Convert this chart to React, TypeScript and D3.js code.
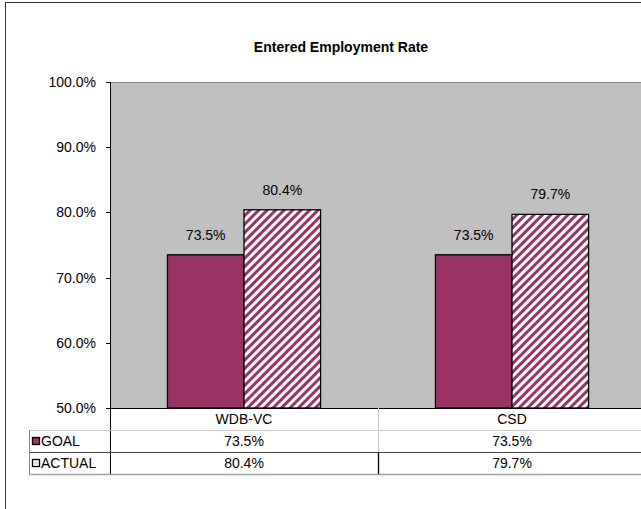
import React from 'react';
import * as d3 from 'd3';

const categories = ['WDB-VC', 'CSD'];
const seriesNames = ['GOAL', 'ACTUAL'];
const goalValues = [73.5, 73.5];
const actualValues = [80.4, 79.7];
const yTicks = [50, 60, 70, 80, 90, 100];
const title = 'Entered Employment Rate';

const W = 641;
const H = 509;
const MAROON = '#993366';
const FONT = '"Liberation Sans", Arial, sans-serif';

export default function App() {
  const plotL = 110, plotR = 646, plotT = 82, plotB = 408;
  const x = d3.scaleBand<string>().domain(categories).range([plotL, plotR]).paddingInner(0).paddingOuter(0);
  const y = d3.scaleLinear().domain([50, 100]).range([plotB, plotT]);
  const bw = x.bandwidth() / 3.5;
  const barX = (c: string, s: number) => (x(c) as number) + bw * 0.75 + s * bw;
  const series = [goalValues, actualValues];
  const fills = [MAROON, 'url(#hatch)'];
  const fmt = (v: number) => v.toFixed(1) + '%';

  const rowH = 22;
  const r0 = plotB, r1 = plotB + rowH, r2 = plotB + 2 * rowH, r3 = plotB + 3 * rowH;
  const tableL = 29;
  const fs = 14;

  return (
    <svg width={W} height={H} style={{ position: 'absolute', left: 0, top: 0 }} fontFamily={FONT}>
      <defs>
        <pattern id="hatch" patternUnits="userSpaceOnUse" width="6" height="6" patternTransform="rotate(45)">
          <rect x="0" y="0" width="6" height="6" fill="#ffffff" />
          <rect x="0" y="0" width="3" height="6" fill={MAROON} />
        </pattern>
      </defs>
      <rect x={0} y={0} width={W} height={H} fill="#ffffff" />
      <rect x={5.5} y={2.5} width={W + 20} height={H + 20} fill="none" stroke="#333" strokeWidth={1} />

      <text x={341} y={52} textAnchor="middle" fontSize={14} fontWeight="bold" fill="#000">{title}</text>

      {/* plot area */}
      <rect x={plotL} y={plotT} width={plotR - plotL} height={plotB - plotT} fill="#c0c0c0" />
      <line x1={plotL} x2={plotR} y1={plotT + 0.5} y2={plotT + 0.5} stroke="#808080" />

      {/* y axis */}
      {yTicks.map((t) => (
        <g key={t}>
          <line x1={plotL - 4} x2={plotL} y1={Math.round(y(t)) + 0.5} y2={Math.round(y(t)) + 0.5} stroke="#000" />
          <text x={96} y={y(t) + 5} textAnchor="end" fontSize={fs} fill="#000">{fmt(t)}</text>
        </g>
      ))}

      {/* bars */}
      {categories.map((c, i) => (
        <g key={c}>
          {series.map((vals, s) => (
            <g key={s}>
              <rect
                x={barX(c, s)}
                y={y(vals[i])}
                width={bw}
                height={plotB - y(vals[i])}
                fill={fills[s]}
                stroke="#000"
                strokeWidth={1.3}
              />
              <text x={barX(c, s) + bw / 2} y={y(vals[i]) - 15} textAnchor="middle" fontSize={fs} fill="#000">
                {fmt(vals[i])}
              </text>
            </g>
          ))}
        </g>
      ))}

      {/* axis lines */}
      <line x1={plotL + 0.5} x2={plotL + 0.5} y1={plotT} y2={r3} stroke="#000" />
      <line x1={plotL} x2={plotR} y1={plotB + 0.5} y2={plotB + 0.5} stroke="#000" />

      {/* data table */}
      <line x1={tableL} x2={plotR} y1={r1 + 0.5} y2={r1 + 0.5} stroke="#c8c8c8" />
      <line x1={tableL} x2={plotR} y1={r2 + 0.5} y2={r2 + 0.5} stroke="#444" />
      <line x1={tableL} x2={plotR} y1={r3 + 0.5} y2={r3 + 0.5} stroke="#a0a0a0" strokeWidth={1.5} />
      <line x1={tableL + 0.5} x2={tableL + 0.5} y1={r1} y2={r3} stroke="#808080" />
      {categories.slice(1).map((c) => (
        <g key={c}>
          <line x1={(x(c) as number) + 0.5} x2={(x(c) as number) + 0.5} y1={r0} y2={r2} stroke="#c8c8c8" />
          <line x1={(x(c) as number) + 0.5} x2={(x(c) as number) + 0.5} y1={r2} y2={r3} stroke="#000" strokeWidth={1.3} />
        </g>
      ))}
      {categories.map((c, i) => (
        <g key={c}>
          <text x={(x(c) as number) + x.bandwidth() / 2} y={r0 + 16} textAnchor="middle" fontSize={fs} fill="#000">{c}</text>
          <text x={(x(c) as number) + x.bandwidth() / 2} y={r1 + 16} textAnchor="middle" fontSize={fs} fill="#000">{fmt(goalValues[i])}</text>
          <text x={(x(c) as number) + x.bandwidth() / 2} y={r2 + 16} textAnchor="middle" fontSize={fs} fill="#000">{fmt(actualValues[i])}</text>
        </g>
      ))}
      {seriesNames.map((n, s) => (
        <g key={n}>
          <rect x={32.5} y={(s === 0 ? r1 : r2) + 7.5} width={7} height={7} fill={s === 0 ? MAROON : '#ffffff'} stroke="#000" strokeWidth={1.3} />
          {s === 1 && <rect x={34.5} y={r2 + 9.5} width={3} height={3} fill="#f3d0e0" />}
          <text x={41} y={(s === 0 ? r1 : r2) + 16} fontSize={fs} fill="#000">{n}</text>
        </g>
      ))}
    </svg>
  );
}
